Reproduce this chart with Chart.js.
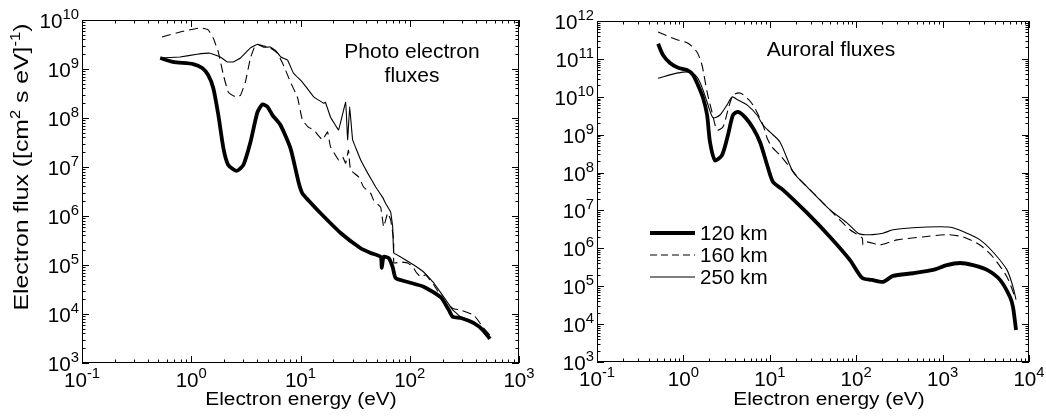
<!DOCTYPE html>
<html>
<head>
<meta charset="utf-8">
<script src="https://cdn.jsdelivr.net/npm/chart.js@4.4.1/dist/chart.umd.min.js"></script>
<style>
    html, body { margin: 0; padding: 0; background: #fff; }
    #wrap { position: relative; width: 1046px; height: 420px; overflow: hidden; }
    canvas { position: absolute; top: 0; }
    #photo { left: 0; width: 560px; height: 420px; }
    #aurora { left: 530px; width: 516px; height: 420px; }
</style>
</head>
<body>
<div id="wrap">
    <canvas id="photo" width="560" height="420"></canvas>
    <canvas id="aurora" width="516" height="420"></canvas>
</div>
<script>
// Photo electron fluxes (energy eV, flux)
const photoE120 = [0.52, 0.68, 1.04, 1.26, 1.43, 1.59, 1.77, 1.97, 2.18, 2.59, 3.0, 3.48, 4.03, 4.48, 4.98, 5.53, 6.55, 8.1, 9.6, 10.4, 11.8, 15.2, 23.3, 35.5, 43.9, 54.2, 55.4, 57.7, 64.1, 69.8, 74.4, 95.9, 134, 192, 228, 248, 294, 386, 467, 542];
const photoF120 = [1.68e9, 1.39e9, 1.26e9, 1.05e9, 7.5e8, 4.1e8, 1.15e8, 2.4e7, 1.1e7, 8.3e6, 1.1e7, 3.2e7, 1.3e8, 1.9e8, 1.7e8, 1.15e8, 7.2e7, 2.4e7, 4.9e6, 2.9e6, 2.1e6, 1.15e6, 4.5e5, 2.2e5, 1.76e5, 1.46e5, 8.7e4, 1.46e5, 1.39e5, 9.1e4, 5.4e4, 4.5e4, 3.6e4, 2.2e4, 1.2e4, 8.7e3, 8.3e3, 6.5e3, 4.7e3, 3.1e3];
const photoE160 = [0.54, 0.79, 1.21, 1.43, 1.59, 1.77, 1.97, 2.18, 2.53, 2.82, 3.13, 3.48, 3.86, 4.03, 5.3, 6.15, 6.98, 8.1, 9.4, 10.4, 11.8, 13.2, 15.9, 17.7, 18.8, 22.3, 24.3, 25.9, 27.5, 28.7, 34.0, 37.8, 43.9, 46.7, 54.2, 57.7, 62.8, 66.9, 71.3, 71.5, 82.6, 95.9, 107, 114, 126, 140, 166, 205, 248, 294, 386, 467, 542];
const photoF160 = [4.5e9, 5.7e9, 6.9e9, 6.3e9, 4.3e9, 2.2e9, 7.5e8, 3.4e8, 2.7e8, 2.9e8, 5.4e8, 1.68e9, 3.1e9, 3.2e9, 2.7e9, 2.1e9, 1.2e9, 5.4e8, 2.6e8, 9.1e7, 6.5e7, 5.7e7, 3.6e7, 5.2e7, 2.6e7, 1.4e7, 1.6e7, 1.2e7, 2.2e7, 8.7e6, 6.3e6, 3.9e6, 2.9e6, 2.1e6, 1.5e6, 6.0e5, 1.15e6, 8.3e5, 3.2e5, 1.1e5, 1.15e5, 1.1e5, 9.1e4, 7.2e4, 5.7e4, 6.3e4, 3.9e4, 1.9e4, 1.3e4, 1.2e4, 9.5e3, 5.4e3, 3.7e3];
const photoE250 = [0.52, 0.79, 1.13, 1.49, 1.84, 2.14, 2.43, 2.82, 3.48, 4.03, 4.58, 5.3, 5.9, 6.6, 7.6, 8.6, 10.4, 13.2, 16.3, 16.9, 18.8, 22.3, 25.9, 27.0, 28.2, 30.0, 35.5, 41.2, 48.8, 56.5, 60.2, 66.9, 69.8, 71.3, 82.6, 109, 134, 166, 223, 248, 294, 386, 478, 542];
const photoF250 = [1.68e9, 1.76e9, 2.0e9, 2.1e9, 1.76e9, 1.39e9, 1.39e9, 1.68e9, 2.7e9, 3.2e9, 2.8e9, 2.8e9, 2.4e9, 1.76e9, 1.53e9, 8.3e8, 5.4e8, 2.7e8, 2.0e8, 2.1e8, 1.05e8, 5.7e7, 2.1e8, 3.6e7, 1.7e8, 3.6e7, 1.4e7, 7.5e6, 3.9e6, 2.4e6, 1.8e6, 1.2e6, 6.0e5, 1.76e5, 1.46e5, 1.0e5, 7.2e4, 4.3e4, 1.7e4, 1.2e4, 8.7e3, 6.9e3, 4.3e3, 3.4e3];

// Auroral fluxes (energy eV, flux)
const auroraE120 = [0.51, 0.58, 0.70, 0.87, 1.10, 1.29, 1.48, 1.69, 1.88, 2.03, 2.32, 2.80, 3.28, 3.75, 4.28, 5.16, 6.39, 7.70, 9.3, 10.9, 14.2, 27.0, 49.8, 84.8, 117, 152, 204, 267, 454, 774, 1120, 1590, 2250, 3270, 4620, 6030, 6530, 7080];
const auroraF120 = [2.5e11, 1.27e11, 7.8e10, 5.8e10, 5.1e10, 3.8e10, 2.0e10, 9.3e9, 3.3e9, 6.4e8, 2.1e8, 2.9e8, 9.8e8, 3.3e9, 4.0e9, 2.9e9, 1.5e9, 6.4e8, 1.6e8, 5.6e7, 3.5e7, 8.6e6, 2.0e6, 4.9e5, 1.66e5, 1.47e5, 1.3e5, 1.87e5, 2.2e5, 2.7e5, 3.6e5, 4.1e5, 3.6e5, 2.7e5, 1.47e5, 5.2e4, 2.8e4, 7.0e3];
const auroraE160 = [0.51, 0.84, 1.13, 1.44, 1.64, 1.88, 2.14, 2.45, 2.87, 3.28, 3.75, 4.52, 5.45, 6.39, 8.34, 9.3, 10.6, 13.1, 22.4, 35.2, 53.8, 84.8, 117, 120, 133, 188, 297, 593, 1120, 1720, 2710, 3830, 5560, 6880];
const auroraF160 = [5.1e11, 3.2e11, 2.6e11, 1.5e11, 6.9e10, 1.34e10, 4.0e9, 1.33e9, 1.6e9, 4.5e9, 1.1e10, 1.26e10, 9.3e9, 6.1e9, 1.8e9, 8.2e8, 4.7e8, 2.9e8, 6.4e7, 2.3e7, 8.6e6, 3.1e6, 1.88e6, 1.23e6, 1.48e6, 1.23e6, 1.67e6, 2.0e6, 2.3e6, 2.0e6, 1.23e6, 5.9e5, 1.76e5, 5.2e4];
const auroraE250 = [0.51, 0.84, 1.19, 1.44, 1.64, 1.88, 2.20, 2.65, 3.20, 3.66, 4.29, 5.45, 7.1, 8.34, 10.0, 13.1, 18.6, 27.0, 49.8, 78.3, 105, 120, 156, 204, 267, 454, 933, 1320, 1910, 2710, 3830, 5560, 6530, 7080];
const auroraF250 = [3.1e10, 4.2e10, 4.5e10, 3.3e10, 1.8e10, 7.3e9, 2.8e9, 3.3e9, 6.1e9, 9.9e9, 8.2e9, 6.1e9, 3.3e9, 1.8e9, 1.18e9, 6.4e8, 1.04e8, 4.2e7, 1.03e7, 4.7e6, 2.5e6, 2.3e6, 2.3e6, 2.5e6, 3.1e6, 3.5e6, 3.7e6, 3.5e6, 2.5e6, 1.67e6, 8.0e5, 2.7e5, 9.6e4, 4.4e4];

const altitudes = ["120 km", "160 km", "250 km"];
const photoXRange = [-1, 3];   // decades
const photoYRange = [3, 10];
const auroraXRange = [-1, 4];
const auroraYRange = [3, 12];

const FONT = '"Liberation Sans", Arial, Helvetica, sans-serif';

function pts(es, fs) {
    return es.map((e, i) => ({ x: e, y: fs[i] }));
}

// line styles for the three altitudes
const styles = [
    { borderWidth: 3.8, borderDash: [] },
    { borderWidth: 1.1, borderDash: [9, 5] },
    { borderWidth: 1.1, borderDash: [] }
];

function makeDatasets(series, tension) {
    return series.map((s, i) => ({
        label: altitudes[i],
        data: pts(s[0], s[1]),
        borderColor: "#000",
        borderWidth: styles[i].borderWidth,
        borderDash: styles[i].borderDash,
        pointRadius: 0,
        fill: false,
        tension: tension[i],
        borderJoinStyle: "round",
        borderCapStyle: "butt"
    }));
}

// text with optional superscripts, stretched a bit along the baseline
function richText(ctx, parts, x, y, o) {
    ctx.save();
    ctx.translate(x, y);
    if (o.angle) ctx.rotate(o.angle);
    ctx.scale(o.sx || 1, 1);
    ctx.fillStyle = "#000";
    ctx.textBaseline = "alphabetic";
    ctx.textAlign = "left";
    const widths = parts.map(p => {
        ctx.font = (p.sup ? o.supSize : o.size) + "px " + FONT;
        return ctx.measureText(p.t).width;
    });
    const total = widths.reduce((a, b) => a + b, 0);
    let cx = o.align === "center" ? -total / 2 : (o.align === "right" ? -total : 0);
    parts.forEach((p, i) => {
        ctx.font = (p.sup ? o.supSize : o.size) + "px " + FONT;
        ctx.fillText(p.t, cx, p.sup ? -o.supRise : 0);
        cx += widths[i];
    });
    ctx.restore();
}

const tickFont = { size: 19.5, supSize: 14, supRise: 9, sx: 1.06 };

const decor = {
    id: "decor",
    afterDraw(chart, args, opts) {
        const ctx = chart.ctx;
        const a = chart.chartArea;
        const xs = chart.scales.x, ys = chart.scales.y;
        ctx.save();
        ctx.strokeStyle = "#000";
        ctx.lineWidth = 1;
        ctx.setLineDash([]);
        ctx.strokeRect(a.left + 0.5, a.top + 0.5, a.right - a.left - 1, a.bottom - a.top - 1);

        ctx.beginPath();
        for (let d = opts.xr[0]; d <= opts.xr[1]; d++) {
            for (let m = 1; m <= 9; m++) {
                if (d === opts.xr[1] && m > 1) break;
                const px = Math.round(xs.getPixelForValue(m * Math.pow(10, d))) + 0.5;
                const len = m === 1 ? 7 : 3.5;
                ctx.moveTo(px, a.bottom); ctx.lineTo(px, a.bottom - len);
                ctx.moveTo(px, a.top); ctx.lineTo(px, a.top + len);
            }
        }
        for (let d = opts.yr[0]; d <= opts.yr[1]; d++) {
            for (let m = 1; m <= 9; m++) {
                if (d === opts.yr[1] && m > 1) break;
                const py = Math.round(ys.getPixelForValue(m * Math.pow(10, d))) + 0.5;
                const len = m === 1 ? 7 : 3.5;
                ctx.moveTo(a.left, py); ctx.lineTo(a.left + len, py);
                ctx.moveTo(a.right, py); ctx.lineTo(a.right - len, py);
            }
        }
        ctx.stroke();

        // decade labels
        for (let d = opts.xr[0]; d <= opts.xr[1]; d++) {
            const px = xs.getPixelForValue(Math.pow(10, d));
            richText(ctx, [{ t: "10" }, { t: String(d), sup: true }], px, a.bottom + 24,
                Object.assign({ align: "center" }, tickFont));
        }
        for (let d = opts.yr[0]; d <= opts.yr[1]; d++) {
            const py = ys.getPixelForValue(Math.pow(10, d));
            richText(ctx, [{ t: "10" }, { t: String(d), sup: true }], a.left - 3, py + 8,
                Object.assign({ align: "right" }, tickFont));
        }

        // free texts
        (opts.texts || []).forEach(t => richText(ctx, t.parts, t.x, t.y, t));

        // legend
        if (opts.legend) {
            const L = opts.legend;
            chart.data.datasets.forEach((ds, i) => {
                const y = L.y + i * L.step;
                ctx.beginPath();
                ctx.lineWidth = ds.borderWidth;
                ctx.setLineDash(i === 1 ? [7, 4] : []);
                ctx.moveTo(L.x, y);
                ctx.lineTo(L.x + L.len, y);
                ctx.stroke();
                ctx.setLineDash([]);
                richText(ctx, [{ t: ds.label }], L.x + L.len + 5, y + 7, { size: 20, align: "left", sx: 1.03 });
            });
        }
        ctx.restore();
    }
};

function makeChart(id, datasets, xr, yr, box, decoOpts) {
    return new Chart(document.getElementById(id), {
        type: "line",
        data: { datasets: datasets },
        plugins: [decor],
        options: {
            responsive: false,
            animation: false,
            events: [],
            layout: { padding: { left: 0, right: box.right, top: box.top, bottom: 0 } },
            plugins: {
                legend: { display: false },
                tooltip: { enabled: false },
                decor: Object.assign({ xr: xr, yr: yr }, decoOpts)
            },
            scales: {
                x: {
                    type: "logarithmic",
                    min: Math.pow(10, xr[0]),
                    max: Math.pow(10, xr[1]),
                    grid: { display: false },
                    border: { display: false },
                    ticks: { display: false },
                    afterFit: s => { s.height = box.bottom; }
                },
                y: {
                    type: "logarithmic",
                    min: Math.pow(10, yr[0]),
                    max: Math.pow(10, yr[1]),
                    grid: { display: false },
                    border: { display: false },
                    ticks: { display: false },
                    afterFit: s => { s.width = box.left; }
                }
            }
        }
    });
}

makeChart("photo",
    makeDatasets([[photoE120, photoF120], [photoE160, photoF160], [photoE250, photoF250]], [0.2, 0.1, 0.05]),
    photoXRange, photoYRange,
    { left: 82, right: 41, top: 20, bottom: 57 },
    {
        texts: [
            { parts: [{ t: "Photo electron" }], x: 412, y: 58, size: 20, align: "center", sx: 1.05 },
            { parts: [{ t: "fluxes" }], x: 412, y: 82, size: 20, align: "center", sx: 1.05 },
            { parts: [{ t: "Electron energy (eV)" }], x: 301, y: 405, size: 18, align: "center", sx: 1.16 },
            { parts: [{ t: "Electron flux ([cm" }, { t: "2", sup: true }, { t: " s eV]" }, { t: "-1", sup: true }, { t: ")" }],
              x: 28, y: 167, size: 21, supSize: 14, supRise: 8, align: "center", sx: 1.18, angle: -Math.PI / 2 }
        ]
    });

makeChart("aurora",
    makeDatasets([[auroraE120, auroraF120], [auroraE160, auroraF160], [auroraE250, auroraF250]], [0.25, 0.25, 0.25]),
    auroraXRange, auroraYRange,
    { left: 67, right: 17, top: 21, bottom: 58 },
    {
        texts: [
            { parts: [{ t: "Auroral fluxes" }], x: 301, y: 56, size: 20, align: "center", sx: 1.05 },
            { parts: [{ t: "Electron energy (eV)" }], x: 299, y: 405, size: 18, align: "center", sx: 1.16 }
        ],
        legend: { x: 120, len: 45, y: 233, step: 22 }
    });
</script>
</body>
</html>
